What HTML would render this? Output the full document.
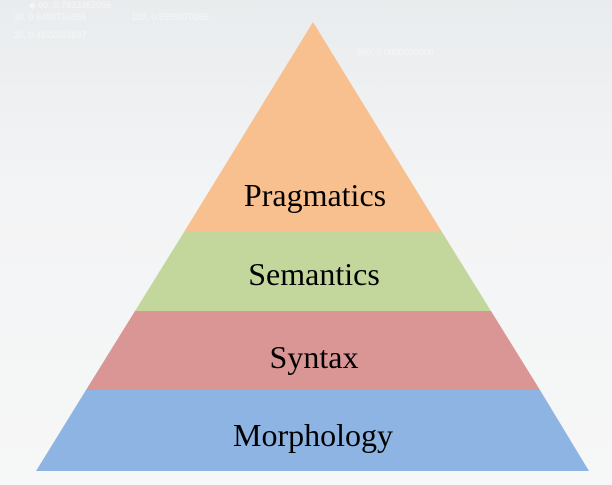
<!DOCTYPE html>
<html><head><meta charset="utf-8"><style>
html,body{margin:0;padding:0;width:612px;height:485px;overflow:hidden;background:linear-gradient(180deg,#e9ecee 0%,#f3f4f5 40%,#f6f7f7 100%);}
svg{display:block}
text{font-family:"Liberation Serif",serif;font-size:32px;fill:#000;text-anchor:middle}
</style></head><body>
<svg width="612" height="485" viewBox="0 0 612 485">
<g opacity="0.5">
<text x="70" y="8" style="font-size:9px;fill:#fff;font-family:'Liberation Sans'">◆ 60, 0.7833362056</text>
<text x="50" y="20" style="font-size:9px;fill:#fff;font-family:'Liberation Sans'">30, 0.6499716055</text>
<text x="50" y="38" style="font-size:9px;fill:#fff;font-family:'Liberation Sans'">30, 0.4522583697</text>
<text x="170" y="20" style="font-size:9px;fill:#fff;font-family:'Liberation Sans'">120, 0.5959370366</text>
<text x="395" y="55" style="font-size:9px;fill:#fff;font-family:'Liberation Sans'">360, 0.0000000000</text>
</g>
<polygon points="313,22 442,232 184,232" fill="#f9c08f"/>
<polygon points="184,232 442,232 491,311 135,311" fill="#c3d69b"/>
<polygon points="135,311 491,311 540,390 86,390" fill="#d99694"/>
<polygon points="86,390 540,390 589,471 36,471" fill="#8eb4e3"/>
<text x="315" y="206">Pragmatics</text>
<text x="314" y="285">Semantics</text>
<text x="314" y="368">Syntax</text>
<text x="313" y="446">Morphology</text>
</svg>
</body></html>
